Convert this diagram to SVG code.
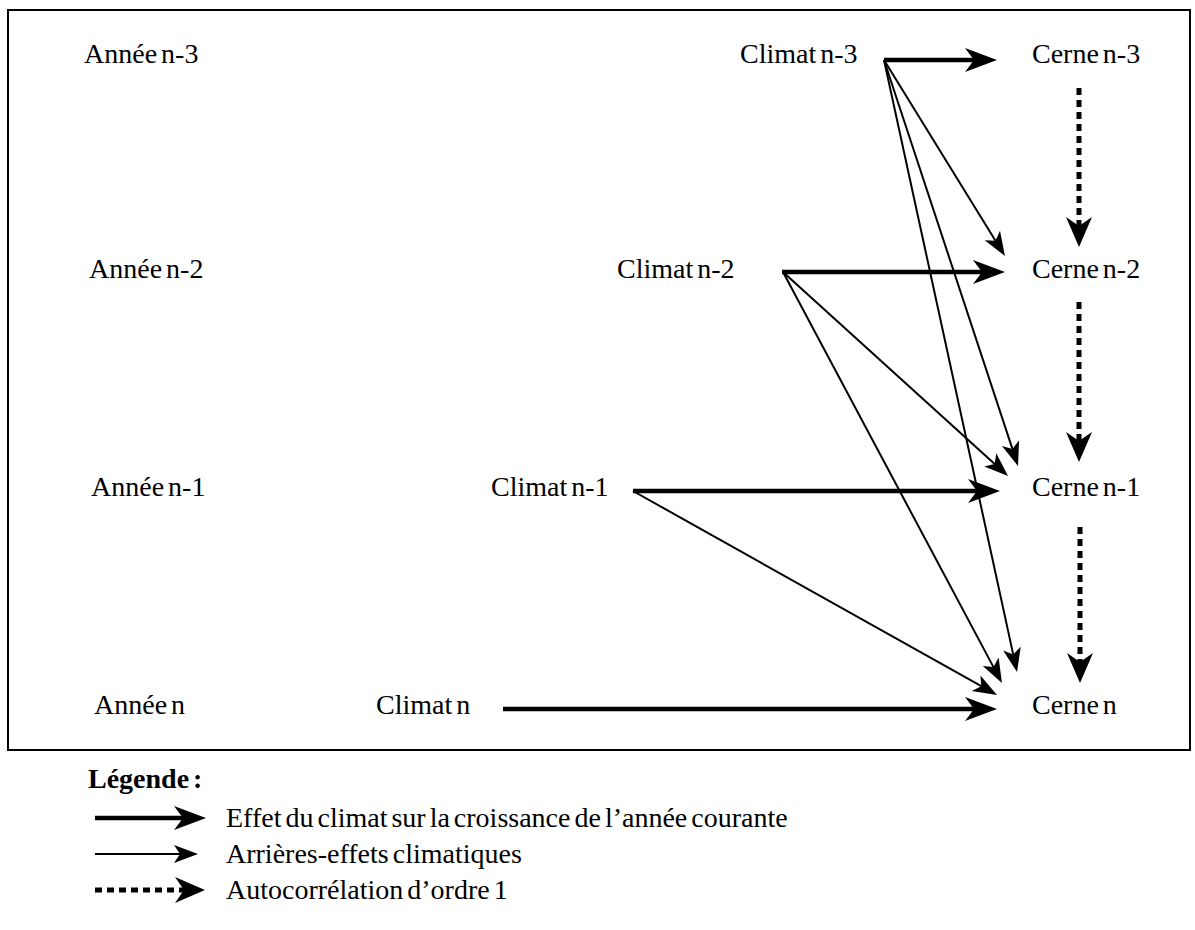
<svg xmlns="http://www.w3.org/2000/svg" width="1195" height="930" viewBox="0 0 1195 930">
<defs>
<style>
text{font-family:"Liberation Serif","Times New Roman",serif;font-size:28px;fill:#000;word-spacing:-3px}
.leg{font-weight:bold}
.thick{stroke:#000;stroke-width:4.5;fill:none}
.thin{stroke:#000;stroke-width:2;fill:none}
.dot{stroke:#000;stroke-width:5;fill:none;stroke-dasharray:7 5}
</style>
<marker id="ahThick" markerUnits="userSpaceOnUse" markerWidth="34" markerHeight="28" viewBox="0 -13 34 26" refX="9" refY="0" orient="auto">
<path d="M0,-12 L32,0 L0,12 L9,0 Z" fill="#000"/>
</marker>
<marker id="ahThin" markerUnits="userSpaceOnUse" markerWidth="26" markerHeight="22" viewBox="0 -10 26 20" refX="6" refY="0" orient="auto">
<path d="M0,-9 L24,0 L0,9 L6,0 Z" fill="#000"/>
</marker>
<marker id="ahDot" markerUnits="userSpaceOnUse" markerWidth="32" markerHeight="30" viewBox="0 -14 32 28" refX="9" refY="0" orient="auto">
<path d="M0,-13 L30,0 L0,13 L9,0 Z" fill="#000"/>
</marker>
</defs>
<rect id="frame" x="8" y="10" width="1182" height="740" fill="none" stroke="#000" stroke-width="2"/>
<g id="annee-n3"><text x="84" y="63">Année n-3</text></g>
<g id="annee-n2"><text x="89" y="278">Année n-2</text></g>
<g id="annee-n1"><text x="91" y="496">Année n-1</text></g>
<g id="annee-n"><text x="94" y="714">Année n</text></g>
<g id="climat-n3"><text x="740" y="63">Climat n-3</text></g>
<g id="climat-n2"><text x="617" y="278">Climat n-2</text></g>
<g id="climat-n1"><text x="491" y="496">Climat n-1</text></g>
<g id="climat-n"><text x="376" y="714">Climat n</text></g>
<g id="cerne-n3"><text x="1032" y="63">Cerne n-3</text></g>
<g id="cerne-n2"><text x="1032" y="278">Cerne n-2</text></g>
<g id="cerne-n1"><text x="1032" y="496">Cerne n-1</text></g>
<g id="cerne-n"><text x="1032" y="714">Cerne n</text></g>
<g id="connectors">
<line class="thick" x1="884" y1="60" x2="974" y2="60" marker-end="url(#ahThick)"/>
<line class="thick" x1="782" y1="272" x2="982" y2="272" marker-end="url(#ahThick)"/>
<line class="thick" x1="633" y1="491" x2="977" y2="491" marker-end="url(#ahThick)"/>
<line class="thick" x1="503" y1="709" x2="974" y2="709" marker-end="url(#ahThick)"/>
<line class="thin" x1="884" y1="60" x2="995.5" y2="240.7" marker-end="url(#ahThin)"/>
<line class="thin" x1="884" y1="60" x2="1012.4" y2="448.9" marker-end="url(#ahThin)"/>
<line class="thin" x1="884" y1="60" x2="1013.2" y2="654.4" marker-end="url(#ahThin)"/>
<line class="thin" x1="783" y1="272" x2="994.7" y2="463.9" marker-end="url(#ahThin)"/>
<line class="thin" x1="783" y1="272" x2="993.5" y2="667.1" marker-end="url(#ahThin)"/>
<line class="thin" x1="633" y1="491" x2="981.3" y2="686.2" marker-end="url(#ahThin)"/>
<line class="dot" x1="1079" y1="88" x2="1079" y2="226" marker-end="url(#ahDot)"/>
<line class="dot" x1="1079" y1="302" x2="1079" y2="441" marker-end="url(#ahDot)"/>
<line class="dot" x1="1080" y1="527" x2="1080" y2="662" marker-end="url(#ahDot)"/>
</g>
<g id="legend">
<text class="leg" x="88" y="788">Légende :</text>
<line class="thick" x1="95" y1="818" x2="183" y2="818" marker-end="url(#ahThick)"/>
<text x="226" y="827">Effet du climat sur la croissance de l’année courante</text>
<line class="thin" x1="95" y1="854" x2="180" y2="854" marker-end="url(#ahThin)"/>
<text x="226" y="863">Arrières-effets climatiques</text>
<line class="dot" x1="95" y1="890" x2="184" y2="890" marker-end="url(#ahDot)"/>
<text x="226" y="899">Autocorrélation d’ordre 1</text>
</g>
</svg>
